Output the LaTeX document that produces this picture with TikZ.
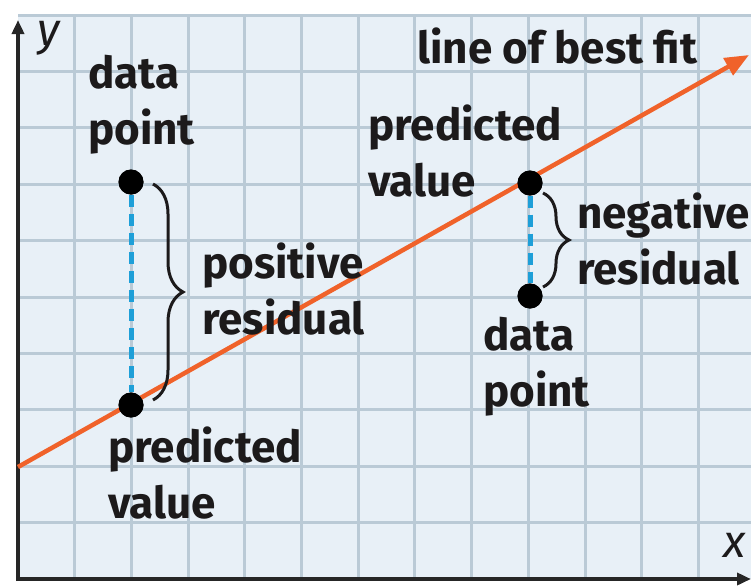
\documentclass[tikz,border=0pt]{standalone}
\usepackage{fontspec}
\setmainfont{Fira Sans}
\usetikzlibrary{arrows.meta,decorations.pathreplacing}
\definecolor{paper}{HTML}{E8F0F7}
\definecolor{gridc}{HTML}{BACAD6}
\definecolor{axisc}{HTML}{262626}
\definecolor{fitc}{HTML}{F0622A}
\definecolor{resblue}{HTML}{1E9FD8}
\definecolor{ink}{HTML}{1C1A1B}
\begin{document}
\begin{tikzpicture}[x=1pt,y=-1pt,
  lbl/.style={anchor=base west, inner sep=0pt, align=left,
    font=\fontsize{44}{56}\selectfont\bfseries, text=ink},
  axlbl/.style={anchor=base west, inner sep=0pt,
    font=\fontsize{46}{46}\selectfont\itshape, text=ink},
  dot/.style={circle, fill=black, inner sep=0pt, minimum size=25pt},
  resid/.style={draw=resblue, line width=5pt, dash pattern=on 12pt off 7pt},
  bracketL/.style={decorate, decoration={brace, amplitude=30pt}, draw=ink, line width=3pt},
  bracketR/.style={decorate, decoration={brace, amplitude=26pt}, draw=ink, line width=3pt},
  axisline/.style={draw=axisc, line width=3.5pt, -{Triangle[length=14pt,width=12pt]}},
  gridline/.style={draw=gridc, line width=3pt},
  fitline/.style={draw=fitc, line width=4.5pt, -{Triangle[length=24pt,width=19pt]}}
]
\useasboundingbox (0,0) rectangle (751,587);

% graph paper
\fill[paper] (18,15) rectangle (751,579);
\foreach \i in {1,...,13}
  \draw[gridline] ({18+56.7*\i},15) -- ({18+56.7*\i},579);
\foreach \j in {1,...,10}
  \draw[gridline] (18,{579-56.4*\j}) -- (751,{579-56.4*\j});

% axes
\coordinate (o) at (18,579);
\coordinate (xend) at (751,579);
\coordinate (yend) at (18,20);
\draw[axisline] (o) -- (xend);
\draw[axisline] ([yshift=-2pt]o) -- (yend);
\node[axlbl] (ylab) at (37,45) {y};
\node[axlbl] (xlab) at (723,557) {x};

% line of best fit
\coordinate (fitstart) at (18,467);
\coordinate (fitend) at (749,55);
\draw[fitline] (fitstart) -- (fitend);

% points and residuals
\node[dot] (D1) at (131,182) {};
\node[dot] (P1) at (131,405) {};
\node[dot] (P2) at (530,183) {};
\node[dot] (D2) at (530,296) {};
\draw[resid] (D1) -- (P1);
\draw[resid] (P2) -- (D2);
\node[dot] at (D1) {};
\node[dot] at (P1) {};
\node[dot] at (P2) {};
\node[dot] at (D2) {};

% braces
\coordinate (bL1) at (153,184);
\coordinate (bL2) at (153,400);
\coordinate (bR1) at (543,193);
\coordinate (bR2) at (543,287);
\draw[bracketL] (bL1) -- (bL2);
\draw[bracketR] (bR1) -- (bR2);

% labels (two-line labels are placed by the baseline of their last line)
\node[lbl] (fitlab) at (417,63) {line of best fit};
\node[lbl] (dpL) at (88,144) {data\\point};
\node[lbl] (pvL) at (108,518) {predicted\\value};
\node[lbl] (posres) at (202,334) {positive\\residual};
\node[lbl] (pvR) at (368,196) {predicted\\value};
\node[lbl] (negres) at (577,284) {negative\\residual};
\node[lbl] (dpR) at (483,406) {data\\point};
\end{tikzpicture}
\end{document}
